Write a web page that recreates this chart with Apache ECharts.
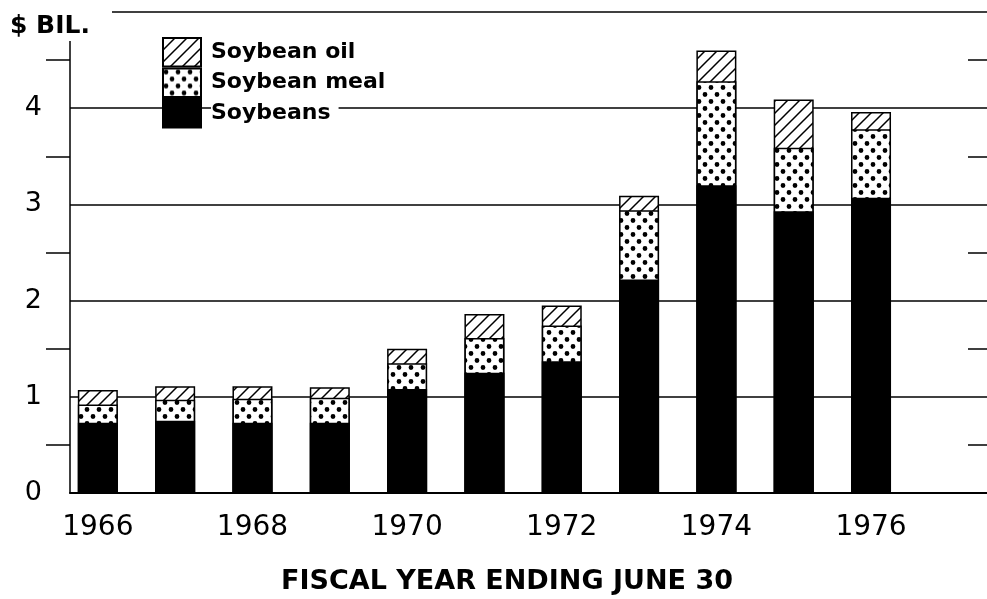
<!DOCTYPE html>
<html>
<head>
<meta charset="utf-8">
<script src="https://cdn.jsdelivr.net/npm/echarts@6/dist/echarts.min.js"></script>
<style>
  html, body { margin: 0; padding: 0; background: #fff; }
  #chart { width: 987px; height: 599px; }
</style>
</head>
<body>
<div id="chart"></div>
<script>
// fiscal years (ending June 30)
var years = [1966, 1967, 1968, 1969, 1970, 1971, 1972, 1973, 1974, 1975, 1976];
// export value, $ billion
var soybeans    = [0.73, 0.75, 0.73, 0.73, 1.08, 1.25, 1.37, 2.22, 3.20, 2.93, 3.07];
var soybeanMeal = [0.19, 0.22, 0.25, 0.26, 0.27, 0.36, 0.37, 0.72, 1.08, 0.66, 0.71];
var soybeanOil  = [0.15, 0.14, 0.13, 0.11, 0.15, 0.25, 0.21, 0.15, 0.32, 0.50, 0.18];
var yearLabels = [1966, 1968, 1970, 1972, 1974, 1976];

var FONT = 'DejaVu Sans';

function hatchPattern() {
  var c = document.createElement('canvas');
  c.width = 12; c.height = 12;
  var ctx = c.getContext('2d');
  ctx.fillStyle = '#fff';
  ctx.fillRect(0, 0, 12, 12);
  ctx.strokeStyle = '#000';
  ctx.lineWidth = 1.5;
  ctx.beginPath();
  ctx.moveTo(-1, 13); ctx.lineTo(13, -1);
  ctx.moveTo(-1, 1); ctx.lineTo(1, -1);
  ctx.moveTo(11, 13); ctx.lineTo(13, 11);
  ctx.stroke();
  return { image: c, repeat: 'repeat' };
}

function dotPattern() {
  var c = document.createElement('canvas');
  c.width = 12; c.height = 14;
  var ctx = c.getContext('2d');
  ctx.fillStyle = '#fff';
  ctx.fillRect(0, 0, 12, 14);
  ctx.fillStyle = '#000';
  ctx.beginPath();
  ctx.arc(3, 3.5, 2.4, 0, Math.PI * 2);
  ctx.closePath();
  ctx.moveTo(11.4, 10.5);
  ctx.arc(9, 10.5, 2.4, 0, Math.PI * 2);
  ctx.fill();
  return { image: c, repeat: 'repeat' };
}

// stacked look on a value x axis: each bar runs from 0 to the running total,
// drawn top layer first so the lower layers paint over it
function cumulative(lists) {
  var out = [];
  for (var i = 0; i < years.length; i++) {
    var s = 0;
    for (var k = 0; k < lists.length; k++) s += lists[k][i];
    out.push([years[i], +s.toFixed(3)]);
  }
  return out;
}

function barSeries(name, data, color, z) {
  return {
    name: name,
    type: 'bar',
    barWidth: 40,
    barGap: '-100%',
    z: z,
    data: data,
    itemStyle: { color: color, borderColor: '#000', borderWidth: 1.5 },
    emphasis: { disabled: true }
  };
}

var chart = echarts.init(document.getElementById('chart'));

var option = {
  animation: false,
  grid: { left: 70, right: 0, top: 12, bottom: 106, containLabel: false },
  legend: {
    orient: 'vertical',
    left: 157,
    top: 32,
    itemWidth: 38,
    itemHeight: 28.5,
    itemGap: 0,
    icon: 'rect',
    selectedMode: false,
    data: ['Soybean oil', 'Soybean meal', 'Soybeans'],
    formatter: function (name) { return '{g|}{t|' + name + '}'; },
    textStyle: {
      fontFamily: FONT,
      fontWeight: 'bold',
      fontSize: 22,
      color: '#000',
      rich: {
        g: { width: 5 },
        t: { fontFamily: FONT, fontWeight: 'bold', fontSize: 22, color: '#000', backgroundColor: '#fff', padding: [0, 8, 0, 0] }
      }
    }
  },
  xAxis: {
    type: 'value',
    min: 1965.64,
    max: 1977.5,
    splitLine: { show: false },
    axisTick: { show: false },
    axisLine: { lineStyle: { color: '#000', width: 2 } },
    axisLabel: {
      customValues: yearLabels,
      formatter: function (v) { return String(v); },
      fontFamily: FONT,
      fontSize: 28,
      color: '#000',
      margin: 21
    }
  },
  yAxis: [
    {
      type: 'value',
      min: 0,
      max: 5,
      interval: 1,
      axisLine: { show: true, lineStyle: { color: '#000', width: 1.5 } },
      axisTick: { show: false },
      minorTick: { show: true, splitNumber: 2, length: 24, lineStyle: { color: '#000', width: 1.5 } },
      splitLine: { show: true, lineStyle: { color: '#000', width: 1.5 } },
      axisLabel: {
        formatter: function (v) { return v === 5 ? '' : String(v); },
        fontFamily: FONT,
        fontSize: 27,
        color: '#000',
        margin: 28
      }
    },
    {
      type: 'value',
      position: 'right',
      min: 0,
      max: 5,
      interval: 1,
      axisLine: { show: false },
      axisTick: { show: false, inside: true },
      minorTick: { show: true, splitNumber: 2, length: 19, lineStyle: { color: '#000', width: 1.5 } },
      splitLine: { show: false },
      axisLabel: { show: false }
    }
  ],
  graphic: [
    { type: 'rect', left: 60, top: 0, shape: { width: 52, height: 41 }, style: { fill: '#fff' }, z: 100 },
    {
      type: 'text', left: 10, top: 14, z: 101,
      style: { text: '$ BIL.', font: 'bold 25px "DejaVu Sans"', fill: '#000' }
    }
  ],
  title: {
    text: 'FISCAL YEAR ENDING JUNE 30',
    left: 281,
    top: 568,
    padding: 0,
    textStyle: { fontFamily: FONT, fontWeight: 'bold', fontSize: 27, color: '#000' }
  },
  series: [
    barSeries('Soybean oil', cumulative([soybeans, soybeanMeal, soybeanOil]), hatchPattern(), 2),
    barSeries('Soybean meal', cumulative([soybeans, soybeanMeal]), dotPattern(), 3),
    barSeries('Soybeans', cumulative([soybeans]), '#000', 4)
  ]
};

chart.setOption(option);
</script>
</body>
</html>
